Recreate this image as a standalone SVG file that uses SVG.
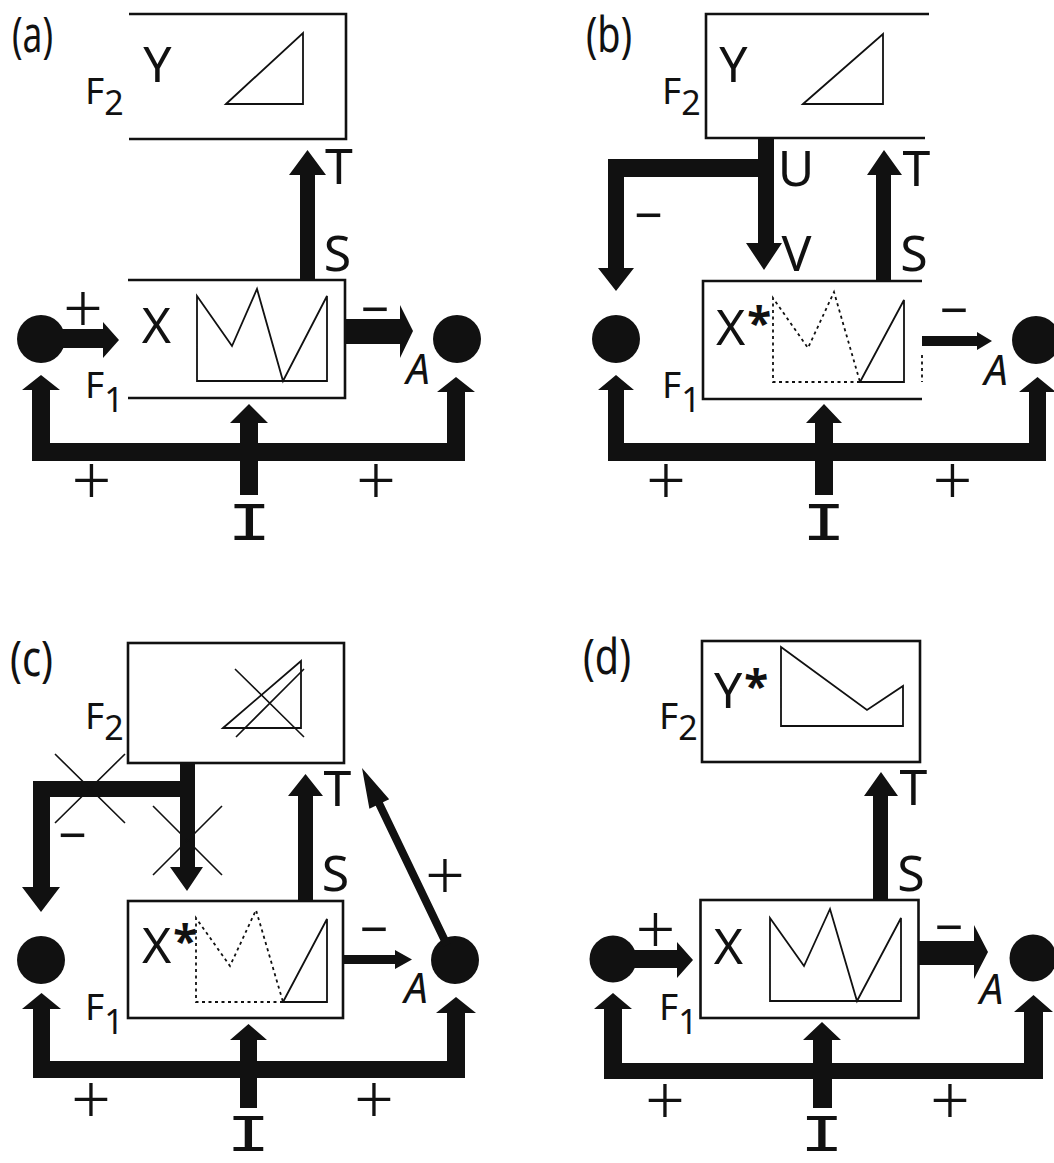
<svg xmlns="http://www.w3.org/2000/svg" width="1054" height="1163" viewBox="0 0 1054 1163">
<style>
.bx{fill:none;stroke:#111;stroke-width:2.6}
.gr{fill:none;stroke:#111;stroke-width:1.8}
.dt{fill:none;stroke:#111;stroke-width:1.8;stroke-dasharray:3 3.5}
.th{fill:none;stroke:#111;stroke-width:1.6}
.k{fill:#111}
.t{font-family:"Noto Sans","Liberation Sans",sans-serif;fill:#111;font-size:50px}
.m{text-anchor:middle}
.ti{font-style:italic;font-size:42px}
.st{font-weight:700;font-size:44px}
.lab{font-family:"Noto Sans","Liberation Sans",sans-serif;fill:#111;font-size:37px}
.sub{font-size:34px}
.pl{font-family:"Noto Sans","Liberation Sans",sans-serif;fill:#111;font-size:70px;font-weight:300;text-anchor:middle}
.mi{font-family:"Noto Sans","Liberation Sans",sans-serif;fill:#111;font-size:50px;text-anchor:middle}
.ii{font-family:"DejaVu Sans Mono",monospace;fill:#111;font-size:46px;text-anchor:middle}
.pn{font-family:"Noto Sans","Liberation Sans",sans-serif;fill:#111;font-size:50px}
</style>

<!-- Panel (a) -->
<g id="panel-a">
  <text class="pn" x="12" y="52" textLength="41" lengthAdjust="spacingAndGlyphs">(a)</text>
  <g id="a-F2">
    <path class="bx" d="M129,14H346V139H129"/>
    <path class="gr" d="M226,104L303,33V104Z"/>
    <text class="t m" x="157.5" y="82">Y</text>
    <text class="lab" x="85" y="104">F<tspan class="sub" dy="11">2</tspan></text>
  </g>
  <g id="a-F1">
    <path class="bx" d="M128,280H345V398H128"/>
    <path class="gr" d="M197,296L232,346L257,289L283,381L327,296V381H197Z"/>
    <text class="t m" x="156.5" y="343">X</text>
    <text class="lab" x="85" y="398">F<tspan class="sub" dy="14">1</tspan></text>
  </g>
  <g id="a-left-node"><circle class="k" cx="41" cy="339" r="24"/></g>
  <g id="a-A-node"><circle class="k" cx="457" cy="339" r="24"/><text class="t ti m" x="418" y="384">A</text></g>
  <g id="a-I-node"><text class="ii" transform="translate(249.5,540) scale(1.6,1.08)">I</text></g>
  <g id="a-connectors">
    <path class="k" d="M41,329H103V322L119,340L103,358V348H41Z"/>
    <path class="k" d="M345,319H400V305L413,331L400,358V344H345Z"/>
    <path class="k" d="M300,280V175H289L307.5,150L326,175H315V280Z"/>
    <path class="k" d="M32,461V390H22L41,375L60,390H50V443H240V423H230L249,404L268,423H258V443H447V392H437L456,377L475,392H465V461H258V495H240V461Z"/>
    <text class="pl" x="83" y="333">+</text>
    <text class="mi" x="375" y="327">−</text>
    <text class="t m" x="339" y="184">T</text>
    <text class="t m" x="337.5" y="271">S</text>
    <text class="pl" x="91.5" y="505">+</text>
    <text class="pl" x="376" y="505">+</text>
  </g>
</g>

<!-- Panel (b) -->
<g id="panel-b">
  <text class="pn" x="586" y="52" textLength="46" lengthAdjust="spacingAndGlyphs">(b)</text>
  <g id="b-F2">
    <path class="bx" d="M929,14H706V138H925"/>
    <path class="gr" d="M803,104L883,34V104Z"/>
    <text class="t m" x="733.5" y="82">Y</text>
    <text class="lab" x="662" y="104">F<tspan class="sub" dy="11">2</tspan></text>
  </g>
  <g id="b-F1">
    <path class="bx" d="M922,281H703V399H922"/>
    <path class="dt" d="M922,355V382"/>
    <path class="dt" d="M860,382H773V298L808,348L834,292L860,382"/>
    <path class="gr" d="M860,382L904,300V382Z"/>
    <text class="t" x="716" y="345">X<tspan class="st" dx="2" dy="-6">*</tspan></text>
    <text class="lab" x="662" y="398">F<tspan class="sub" dy="14">1</tspan></text>
  </g>
  <g id="b-left-node"><circle class="k" cx="616" cy="339" r="24"/></g>
  <g id="b-A-node"><circle class="k" cx="1036" cy="340" r="24"/><text class="t ti m" x="996" y="385">A</text></g>
  <g id="b-I-node"><text class="ii" transform="translate(824,540) scale(1.6,1.08)">I</text></g>
  <g id="b-connectors">
    <path class="k" d="M774,138V243H782L764,270L746,243H758V177H624V268H634L616,291L598,268H608V159H758V138Z"/>
    <path class="k" d="M876,281V175H867L884,150L902,175H891V281Z"/>
    <path class="k" d="M922,336H977V332L992,341L977,350V346H922Z"/>
    <path class="k" d="M608,461V390H598L616,375L634,390H624V443H815V423H806L824,404L842,423H833V443H1029V392H1019L1037.5,377L1056,392H1046V461H833V495H815V461Z"/>
    <text class="t m" x="796" y="186">U</text>
    <text class="t m" x="796.5" y="271">V</text>
    <text class="mi" x="648.5" y="233">−</text>
    <text class="t m" x="916.5" y="186">T</text>
    <text class="t m" x="914" y="271">S</text>
    <text class="mi" x="954" y="328">−</text>
    <text class="pl" x="666" y="505">+</text>
    <text class="pl" x="952.5" y="505">+</text>
  </g>
</g>

<!-- Panel (c) -->
<g id="panel-c">
  <text class="pn" x="10" y="676" textLength="43" lengthAdjust="spacingAndGlyphs">(c)</text>
  <g id="c-F2">
    <rect class="bx" x="128" y="643" width="216" height="120"/>
    <path class="gr" d="M223,728L301,661V728Z"/>
    <path class="th" d="M235,669L304,737M236,737L304,669"/>
    <text class="lab" x="85" y="729">F<tspan class="sub" dy="11">2</tspan></text>
  </g>
  <g id="c-F1">
    <rect class="bx" x="128" y="901" width="215" height="117"/>
    <path class="dt" d="M283,1002H196V918L230,966L256,910L283,1002"/>
    <path class="gr" d="M283,1002L327,919V1002Z"/>
    <text class="t" x="142" y="963">X<tspan class="st" dx="2" dy="-6">*</tspan></text>
    <text class="lab" x="85" y="1020">F<tspan class="sub" dy="14">1</tspan></text>
  </g>
  <g id="c-left-node"><circle class="k" cx="41" cy="960" r="24"/></g>
  <g id="c-A-node"><circle class="k" cx="455" cy="960" r="24"/><text class="t ti m" x="416" y="1003">A</text></g>
  <g id="c-I-node"><text class="ii" transform="translate(248.5,1151) scale(1.6,1.05)">I</text></g>
  <g id="c-connectors">
    <path class="k" d="M195,763V867H203L187,891L170,867H180V797H50V887H60L41,912L22,887H33V781H180V763Z"/>
    <path class="th" d="M55,754L125,823M125,754L55,823M153,806L222,875M222,806L153,875"/>
    <path class="k" d="M298,901V796H288L305.5,774L323,796H313V901Z"/>
    <path class="k" d="M343,955H395V950L412,959.5L395,969V964H343Z"/>
    <path class="k" d="M443.4,946.7L375.7,805.7L369.4,808.8L362,768L389.2,799.2L382.9,802.3L450.6,943.3Z"/>
    <path class="k" d="M33,1078V1009H22L41.5,993L61,1009H50V1061H240V1040H230L248.5,1024L267,1040H257V1061H447V1013H436L456,997L476,1013H465V1078H257V1108H240V1078Z"/>
    <text class="mi" x="72.5" y="853">−</text>
    <text class="t m" x="337.5" y="806">T</text>
    <text class="t m" x="335.5" y="891">S</text>
    <text class="mi" x="374" y="947">−</text>
    <text class="pl" x="445" y="900">+</text>
    <text class="pl" x="91" y="1124">+</text>
    <text class="pl" x="374" y="1124">+</text>
  </g>
</g>

<!-- Panel (d) -->
<g id="panel-d">
  <text class="pn" x="583" y="674" textLength="48" lengthAdjust="spacingAndGlyphs">(d)</text>
  <g id="d-F2">
    <rect class="bx" x="702" y="641" width="218" height="121"/>
    <path class="gr" d="M781,647L867,710L903,686V726H781Z"/>
    <text class="t" x="714" y="708">Y<tspan class="st" dx="2" dy="-6">*</tspan></text>
    <text class="lab" x="659" y="729">F<tspan class="sub" dy="11">2</tspan></text>
  </g>
  <g id="d-F1">
    <rect class="bx" x="700.5" y="900" width="218" height="118"/>
    <path class="gr" d="M770,918L804,966L830,909L857,1001L901,918V1001H770Z"/>
    <text class="t m" x="728.5" y="964">X</text>
    <text class="lab" x="659" y="1020">F<tspan class="sub" dy="14">1</tspan></text>
  </g>
  <g id="d-left-node"><circle class="k" cx="613" cy="959" r="23.5"/></g>
  <g id="d-A-node"><circle class="k" cx="1033" cy="958" r="23.5"/><text class="t ti m" x="991.5" y="1004">A</text></g>
  <g id="d-I-node"><text class="ii" transform="translate(822,1151) scale(1.6,1.05)">I</text></g>
  <g id="d-connectors">
    <path class="k" d="M613,950H677V942L693,960L677,978V968H613Z"/>
    <path class="k" d="M918.5,941H974V925L988,952L974,979V965H918.5Z"/>
    <path class="k" d="M873,900V796H864L881,772L898,796H888V900Z"/>
    <path class="k" d="M604,1079V1009H594L613,993L632,1009H622V1063H813V1040H803L822,1022L841,1040H832V1063H1024V1012H1014L1033.5,995L1053,1012H1043V1079H832V1108H813V1079Z"/>
    <text class="pl" x="655.5" y="954">+</text>
    <text class="mi" x="949" y="945">−</text>
    <text class="t m" x="913.5" y="805">T</text>
    <text class="t m" x="911" y="891">S</text>
    <text class="pl" x="665" y="1125">+</text>
    <text class="pl" x="950" y="1125">+</text>
  </g>
</g>
</svg>
